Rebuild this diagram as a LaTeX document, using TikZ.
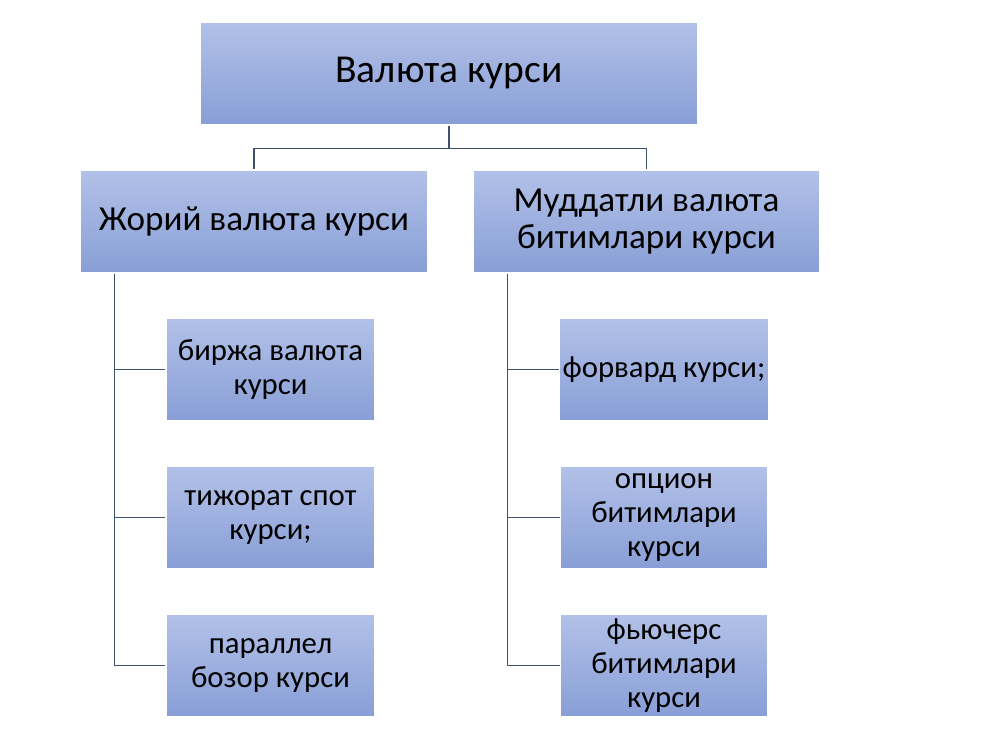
\documentclass[tikz,border=0pt]{standalone}
\usepackage{fontspec}
\setmainfont{Carlito}
\definecolor{boxtop}{RGB}{178,193,232}
\definecolor{boxbot}{RGB}{136,158,214}
\definecolor{linkc}{RGB}{62,82,112}
\tikzset{
    unitbox/.style={rectangle, top color=boxtop, bottom color=boxbot, draw=white, line width=0.6pt,
        inner sep=2pt, align=center, font=\fontsize{17.5}{19.5}\selectfont},
    link/.style={draw=linkc, line width=0.8pt}
}
\begin{document}
\begin{tikzpicture}[x=0.02cm,y=-0.02cm]
    \useasboundingbox (0,0) rectangle (1000,750);
    % top
    \node [unitbox, minimum width=9.96cm, minimum height=2.06cm, font=\fontsize{22.5}{26}\selectfont] (rate) at (449,73.5) {Валюта курси};
    % second level
    \node [unitbox, minimum width=6.96cm, minimum height=2.06cm, font=\fontsize{20}{21}\selectfont] (spot) at (254,221.5) {Жорий валюта курси};
    \node [unitbox, minimum width=6.94cm, minimum height=2.06cm, font=\fontsize{20}{21}\selectfont] (term) at (646.5,221.5) {Муддатли валюта\\битимлари курси};
    % left children
    \node [unitbox, minimum width=4.18cm, minimum height=2.06cm] (exch) at (270.5,369.5) {биржа валюта\\курси};
    \node [unitbox, minimum width=4.18cm, minimum height=2.06cm] (comm) at (270.5,517.5) {тижорат спот\\курси;};
    \node [unitbox, minimum width=4.18cm, minimum height=2.06cm] (para) at (270.5,665.5) {параллел\\бозор курси};
    % right children
    \node [unitbox, minimum width=4.16cm, minimum height=2.06cm] (fwd) at (664,369.5) {форвард курси;};
    \node [unitbox, minimum width=4.16cm, minimum height=2.06cm] (opt) at (664,517.5) {опцион\\битимлари\\курси};
    \node [unitbox, minimum width=4.16cm, minimum height=2.06cm] (fut) at (664,665.5) {фьючерс\\битимлари\\курси};
    % links
    \draw [link] (rate.south) -- ++(0,23) -| (spot.north);
    \draw [link] (rate.south) -- ++(0,23) -| (term.north);
    \foreach \c in {exch,comm,para}
        \draw [link] (spot.south west) ++(35,0) |- (\c.west);
    \foreach \c in {fwd,opt,fut}
        \draw [link] (term.south west) ++(35,0) |- (\c.west);
\end{tikzpicture}
\end{document}
